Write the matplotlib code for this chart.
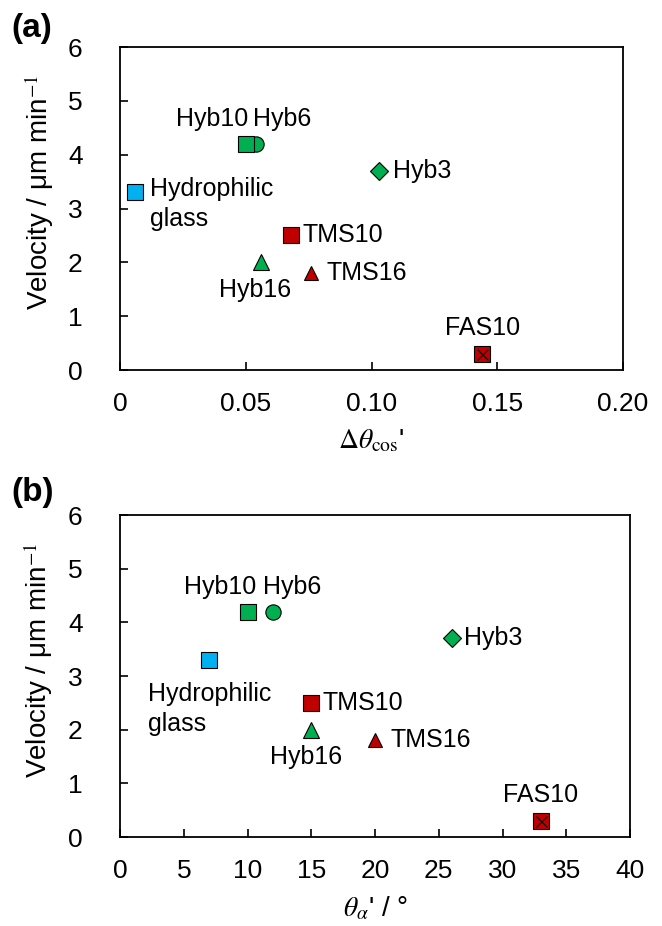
import matplotlib
matplotlib.use("Agg")
import matplotlib.pyplot as plt

plt.rcParams['font.family'] = ['Liberation Sans', 'DejaVu Sans']
plt.rcParams['mathtext.fontset'] = 'stix'

samples = ["Hydrophilic\nglass", "Hyb6", "Hyb10", "Hyb3", "TMS10", "Hyb16", "TMS16", "FAS10"]
velocity = [3.3, 4.2, 4.2, 3.7, 2.5, 2.0, 1.8, 0.3]
dtheta_cos = [0.006, 0.054, 0.050, 0.103, 0.068, 0.056, 0.076, 0.144]
theta_alpha = [7, 12, 10, 26, 15, 15, 20, 33]

markers = ["s", "o", "s", "D", "s", "^", "^", "s"]
colors = ["#00B0F0", "#00B050", "#00B050", "#00B050", "#C00000", "#00B050", "#C00000", "#C00000"]
sizes = [11, 11, 11, 9, 11, 11, 10, 11]

fig = plt.figure(figsize=(6.62, 9.26), dpi=100)
ax_a = fig.add_axes([0.1813, 0.6004, 0.7598, 0.3488])
ax_b = fig.add_axes([0.1813, 0.0961, 0.7704, 0.3477])

def draw(ax, xs, xlim, xticks, xticklabels, xlabel, offsets):
    for i, name in enumerate(samples):
        ax.plot(xs[i], velocity[i], marker=markers[i], ms=sizes[i], color=colors[i],
                mec="black", mew=0.8, ls="none", zorder=3 + i * 0.01)
        if name == "FAS10":
            ax.plot(xs[i], velocity[i], marker="x", ms=sizes[i] * 0.72, color="black",
                    mew=0.8, ls="none", zorder=4)
        dx, dy, ha, va = offsets[name]
        ax.annotate(name, (xs[i], velocity[i]), xytext=(dx, dy), textcoords="offset points",
                    ha=ha, va=va, fontsize=18, linespacing=1.3)
    ax.set_xlim(*xlim)
    ax.set_ylim(0, 6)
    ax.set_xticks(xticks)
    ax.set_xticklabels(xticklabels)
    ax.set_yticks(range(0, 7))
    ax.tick_params(direction="in", length=6, width=1.2, labelsize=19)
    ax.tick_params(axis="x", pad=16)
    ax.tick_params(axis="y", pad=27)
    for s in ax.spines.values():
        s.set_linewidth(1.3)
    ax.set_ylabel("Velocity / μm min$^{-1}$", fontsize=20)
    ax.yaxis.set_label_coords(-0.128, 0.55)
    ax.set_xlabel(xlabel, fontsize=20, labelpad=8)

offs_a = {
    "Hydrophilic\nglass": (11, 11, "left", "top"),
    "Hyb10": (2, 9, "right", "bottom"),
    "Hyb6": (-2, 9, "left", "bottom"),
    "Hyb3": (10, 0, "left", "center"),
    "TMS10": (8, 0, "left", "center"),
    "Hyb16": (-4, -11, "center", "top"),
    "TMS16": (11, 0, "left", "center"),
    "FAS10": (0, 10, "center", "bottom"),
}
offs_b = {
    "Hydrophilic\nglass": (-44, -16, "left", "top"),
    "Hyb10": (6, 9, "right", "bottom"),
    "Hyb6": (-7, 9, "left", "bottom"),
    "Hyb3": (9, 0, "left", "center"),
    "TMS10": (8, 0, "left", "center"),
    "Hyb16": (-4, -11, "center", "top"),
    "TMS16": (11, 0, "left", "center"),
    "FAS10": (0, 10, "center", "bottom"),
}

draw(ax_a, dtheta_cos, (0, 0.20), [0, 0.05, 0.10, 0.15, 0.20],
     ["0", "0.05", "0.10", "0.15", "0.20"], r"$\Delta\theta_{\mathrm{cos}}$'", offs_a)
draw(ax_b, theta_alpha, (0, 40), list(range(0, 41, 5)),
     [str(v) for v in range(0, 41, 5)], r"$\theta_{\alpha}$' / °", offs_b)

fig.text(0.017, 0.969, "(a)", fontsize=24, fontweight="bold", va="center")
fig.text(0.017, 0.468, "(b)", fontsize=24, fontweight="bold", va="center")

fig.savefig("out.png", dpi=100)
